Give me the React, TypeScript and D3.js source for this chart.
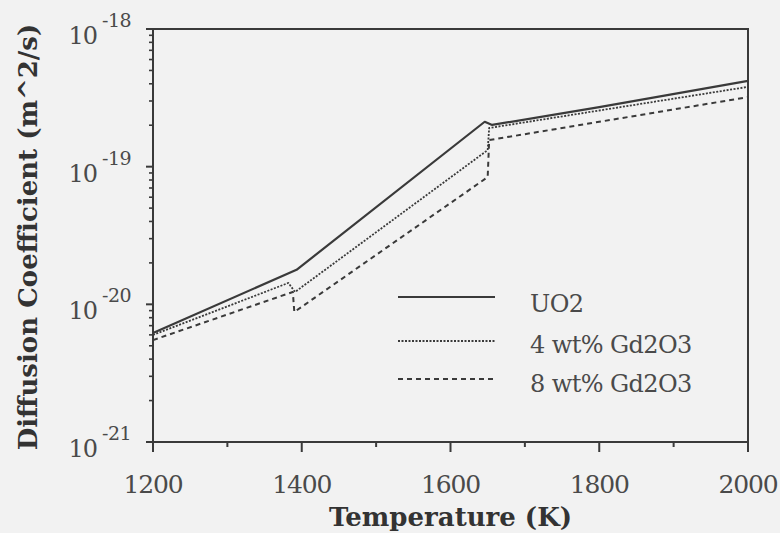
import React from "react";
import * as d3 from "d3";

const uo2T = [1200, 1393, 1646, 1656, 1800, 2000];
const uo2D = [6.2e-21, 1.78e-20, 2.12e-19, 2.01e-19, 2.71e-19, 4.2e-19];

const gd4T = [1200, 1382, 1391, 1650, 1652, 2000];
const gd4D = [6.0e-21, 1.43e-20, 1.23e-20, 1.32e-19, 1.91e-19, 3.8e-19];

const gd8T = [1200, 1388, 1390, 1650, 1652, 2000];
const gd8D = [5.5e-21, 1.23e-20, 8.8e-21, 8.4e-20, 1.56e-19, 3.2e-19];

const seriesNames = ["UO2", "4 wt% Gd2O3", "8 wt% Gd2O3"];
const xTicks = [1200, 1400, 1600, 1800, 2000];
const xMinor = [1300, 1500, 1700, 1900];
const yExps = [-18, -19, -20, -21];

const W = 780;
const H = 533;
const M = { left: 153, right: 748, top: 29, bottom: 442 };
const FONT = "'DejaVu Serif', serif";
const INK = "#3a3a3a";
const TXT = "#4a4a4a";

export default function App() {
  const x = d3.scaleLinear().domain([1200, 2000]).range([M.left, M.right]);
  const y = d3.scaleLog().domain([1e-21, 1e-18]).range([M.bottom, M.top]);
  const line = d3
    .line<[number, number]>()
    .x((d) => x(d[0]))
    .y((d) => y(d[1]));

  const series = [
    { name: seriesNames[0], pts: uo2T.map((t, i) => [t, uo2D[i]] as [number, number]), dash: "none", w: 2.2 },
    { name: seriesNames[1], pts: gd4T.map((t, i) => [t, gd4D[i]] as [number, number]), dash: "2 1.5", w: 1.8 },
    { name: seriesNames[2], pts: gd8T.map((t, i) => [t, gd8D[i]] as [number, number]), dash: "5 4", w: 2 },
  ];

  const yMinor: number[] = [];
  for (const e of [-21, -20, -19]) {
    for (let k = 2; k <= 9; k++) yMinor.push(k * Math.pow(10, e));
  }

  const legendY = [297, 341, 379];
  const legendTextY = [312, 353, 392];

  return (
    <svg width={W} height={H} style={{ display: "block", position: "absolute", left: 0, top: 0 }}>
      <rect x={0} y={0} width={W} height={H} fill="#f2f2f2" />
      {/* frame */}
      <rect
        x={M.left}
        y={M.top}
        width={M.right - M.left}
        height={M.bottom - M.top}
        fill="none"
        stroke={INK}
        strokeWidth={2}
      />
      {/* x ticks */}
      {xTicks.map((t) => (
        <g key={"xt" + t}>
          <line x1={x(t)} x2={x(t)} y1={M.bottom} y2={M.bottom + 10} stroke={INK} strokeWidth={2} />
          <text
            x={x(t)}
            y={493}
            textAnchor="middle"
            fontFamily={FONT}
            fontSize={25}
            fill={TXT}
            letterSpacing={-1.2}
          >
            {t}
          </text>
        </g>
      ))}
      {xMinor.map((t) => (
        <line key={"xm" + t} x1={x(t)} x2={x(t)} y1={M.bottom} y2={M.bottom + 5} stroke={INK} strokeWidth={2} />
      ))}
      {/* y ticks */}
      {yExps.map((e) => {
        const v = Math.pow(10, e);
        const yy = y(v);
        return (
          <g key={"yt" + e}>
            <line x1={M.left - 7} x2={M.left} y1={yy} y2={yy} stroke={INK} strokeWidth={2} />
            <text x={97} y={yy + 15} textAnchor="end" fontFamily={FONT} fontSize={24} fill={TXT} letterSpacing={-1}>
              10
            </text>
            <text x={102} y={yy - 2} textAnchor="start" fontFamily={FONT} fontSize={19} fill={TXT} letterSpacing={-0.5}>
              {String(e)}
            </text>
          </g>
        );
      })}
      {yMinor.map((v, i) => (
        <line key={"ym" + i} x1={M.left - 4} x2={M.left} y1={y(v)} y2={y(v)} stroke={INK} strokeWidth={1.6} />
      ))}
      {/* series */}
      {series.map((s) => (
        <path
          key={s.name}
          d={line(s.pts) || ""}
          fill="none"
          stroke={INK}
          strokeWidth={s.w}
          strokeDasharray={s.dash}
          strokeLinejoin="round"
        />
      ))}
      {/* legend */}
      {series.map((s, i) => (
        <g key={"lg" + i}>
          <line
            x1={398}
            x2={495}
            y1={legendY[i]}
            y2={legendY[i]}
            stroke={INK}
            strokeWidth={s.w}
            strokeDasharray={s.dash}
          />
          <text x={530} y={legendTextY[i]} fontFamily={FONT} fontSize={24} fill={TXT} letterSpacing={-0.6}>
            {s.name}
          </text>
        </g>
      ))}
      {/* axis titles */}
      <text
        x={(M.left + M.right) / 2}
        y={526}
        textAnchor="middle"
        fontFamily={FONT}
        fontWeight="bold"
        fontSize={26}
        fill="#333"
      >
        Temperature (K)
      </text>
      <text
        transform={`translate(37, 237) rotate(-90)`}
        textAnchor="middle"
        fontFamily={FONT}
        fontWeight="bold"
        fontSize={26}
        fill="#333"
      >
        Diffusion Coefficient (m^2/s)
      </text>
    </svg>
  );
}
